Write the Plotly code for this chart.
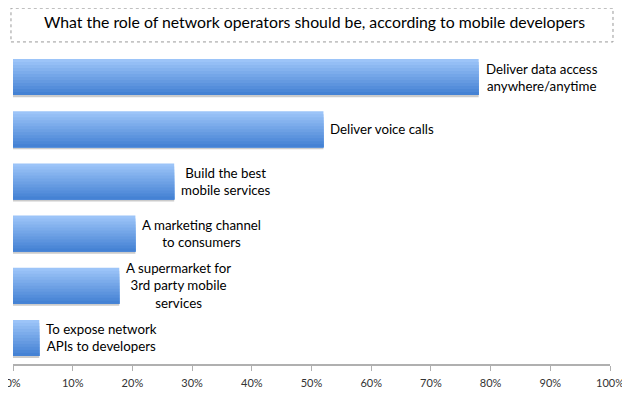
import plotly.graph_objects as go

categories = [
    "Deliver data access<br>anywhere/anytime",
    "Deliver voice calls",
    "Build the best<br>mobile services",
    "A marketing channel<br>to consumers",
    "A supermarket for<br>3rd party mobile<br>services",
    "To expose network<br>APIs to developers",
]
values = [78, 52, 27, 20.5, 17.8, 4.4]
tick_vals = [0, 10, 20, 30, 40, 50, 60, 70, 80, 90, 100]
tick_text = ["0%", "10%", "20%", "30%", "40%", "50%", "60%", "70%", "80%", "90%", "100%"]
title_text = "What the role of network operators should be, according to mobile developers"

ypos = list(range(len(categories)))

fig = go.Figure()

thick = 0.69
# shadow under each bar
fig.add_trace(go.Bar(
    x=values, y=ypos, orientation="h",
    width=0.06, offset=thick / 2 - 0.02,
    marker=dict(color="rgba(160,160,160,0.55)", line=dict(width=0)),
    hoverinfo="skip", showlegend=False,
))

top = (0x9c, 0xc4, 0xf8)
bot = (0x45, 0x82, 0xd4)
N = 12
h = thick / N
for i in range(N):
    t = i / (N - 1)
    c = tuple(round(top[k] + (bot[k] - top[k]) * t) for k in range(3))
    fig.add_trace(go.Bar(
        x=values, y=ypos, orientation="h",
        width=thick - i * h, offset=-thick / 2 + i * h,
        marker=dict(color="rgb(%d,%d,%d)" % c, line=dict(width=0)),
        hoverinfo="skip", showlegend=False,
    ))

for v, y, lab in zip(values, ypos, categories):
    fig.add_annotation(
        x=v, y=y, xref="x", yref="y", text=lab, showarrow=False,
        xanchor="left", yanchor="middle", xshift=5, align="center",
        font=dict(family="Lato", size=13.3, color="#000000"),
    )

fig.add_annotation(
    x=0.505, y=1.095, xref="paper", yref="paper", text=title_text,
    showarrow=False, xanchor="center", yanchor="middle",
    font=dict(family="Lato", size=15.8, color="#000000"),
)
fig.add_shape(
    type="rect", xref="paper", yref="paper",
    x0=-0.0034, x1=1.005, y0=1.029, y1=1.137,
    line=dict(color="#999999", width=1, dash="dot"),
)

fig.update_layout(
    width=630, height=398,
    margin=dict(l=5, r=28, t=43, b=42, autoexpand=False),
    paper_bgcolor="white", plot_bgcolor="white",
    barmode="overlay",
    showlegend=False,
    xaxis=dict(
        range=[0, 100], tickvals=tick_vals, ticktext=tick_text,
        showgrid=False, zeroline=False, showline=True, linecolor="#b0b0b0",
        linewidth=1.5, ticks="outside", ticklen=5, tickcolor="#b0b0b0",
        tickfont=dict(family="Lato", size=11, color="#333333"),
        ticklabeloverflow="allow", ticklabelstandoff=3,
        fixedrange=True, automargin=False,
    ),
    yaxis=dict(
        range=[len(categories) - 0.5, -0.5], showticklabels=False,
        showgrid=False, zeroline=False, showline=False, ticks="",
        fixedrange=True, automargin=False,
    ),
)

fig.write_html("out.html")
